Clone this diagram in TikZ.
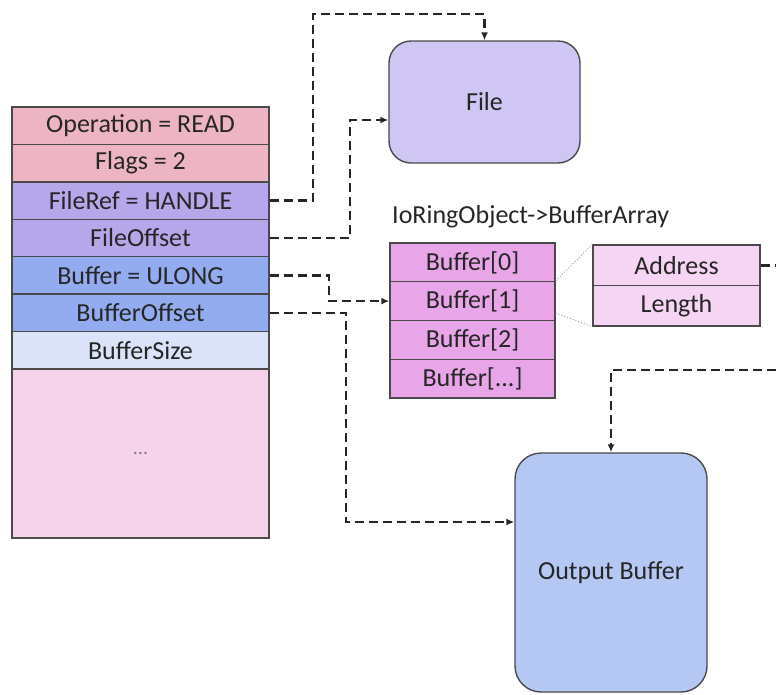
\documentclass[tikz,border=0pt]{standalone}
\usepackage{fontspec}
\setmainfont{Carlito}
\usetikzlibrary{arrows.meta,calc}
\definecolor{opPink}{HTML}{EDB4C3}
\definecolor{refPurple}{HTML}{B6A7EA}
\definecolor{bufBlue}{HTML}{92ACEF}
\definecolor{sizeBlue}{HTML}{DAE3F8}
\definecolor{restPink}{HTML}{F7D3EB}
\definecolor{arrOrchid}{HTML}{E8A6E8}
\definecolor{addrPink}{HTML}{F6D4F3}
\definecolor{fileLilac}{HTML}{D0C6F3}
\definecolor{outBlue}{HTML}{B5C8F3}
\definecolor{ink}{HTML}{262626}
\definecolor{edge}{HTML}{4A4A4A}
\tikzset{
  txt/.style={font=\fontsize{26}{30}\selectfont, text=ink},
  cell/.style={txt, draw=edge, line width=1.4pt, rectangle, inner sep=0pt,
    minimum width=257pt, minimum height=37.43pt},
  acell/.style={cell, fill=arrOrchid, minimum width=165pt, minimum height=38.75pt},
  bcell/.style={cell, fill=addrPink, minimum width=167pt, minimum height=40.5pt},
  bigbox/.style={txt, draw=edge, line width=1.4pt, rounded corners=22pt, inner sep=0pt},
  conn/.style={draw=ink, line width=2.6pt, dash pattern=on 9pt off 5pt,
    -{Latex[length=8pt,width=7pt]}},
  zoomline/.style={draw=gray!70, line width=1pt, dotted}
}
\begin{document}
\begin{tikzpicture}[x=1pt,y=-1pt]
\clip (0,0) rectangle (776,694);
\useasboundingbox (0,0) rectangle (776,694);

% submission entry fields
\node[cell, fill=opPink]    (op)      at (140.5,125.7) {Operation = READ};
\node[cell, fill=opPink]    (flags)   at (140.5,163.1) {Flags = 2};
\node[cell, fill=refPurple] (fileref) at (140.5,200.6) {FileRef = HANDLE};
\node[cell, fill=refPurple] (fileoff) at (140.5,238.0) {FileOffset};
\node[cell, fill=bufBlue]   (bufref)  at (140.5,275.4) {Buffer = ULONG};
\node[cell, fill=bufBlue]   (bufoff)  at (140.5,312.9) {BufferOffset};
\node[cell, fill=sizeBlue]  (bufsize) at (140.5,350.3) {BufferSize};
\node[cell, fill=restPink, minimum height=169pt] (rest) at (140.5,453.5)
  {\textcolor{gray}{\fontsize{20}{22}\selectfont ...}};

% file object
\node[bigbox, fill=fileLilac, minimum width=191pt, minimum height=122pt]
  (file) at (484.5,102) {File};

% registered buffer array
\node[txt, anchor=west, inner sep=0pt] (arrlabel) at (392,217) {IoRingObject->BufferArray};
\node[acell] (b0) at (472.5,262.4) {Buffer[0]};
\node[acell] (b1) at (472.5,301.1) {Buffer[1]};
\node[acell] (b2) at (472.5,339.9) {Buffer[2]};
\node[acell] (b3) at (472.5,378.6) {Buffer[...]};

% buffer entry detail
\node[bcell] (addr) at (676.5,265.3) {Address};
\node[bcell] (len)  at (676.5,305.8) {Length};
\draw[zoomline] (b1.north east) -- (addr.north west);
\draw[zoomline] ([yshift=-12pt]b1.east) -- (len.south west);

% output buffer
\node[bigbox, fill=outBlue, minimum width=192pt, minimum height=239pt, rounded corners=26pt]
  (out) at (611,572.5) {Output Buffer};

% references
\draw[conn] (fileref.east) -- (313,200.6) -- (313,14) -| (file.north);
\draw[conn] (fileoff.east) -- (350,238) |- ([yshift=-18pt]file.west);
\draw[conn] (bufref.east) -- (329,275.4) |- (b1.west);
\draw[conn] (bufoff.east) -- (346,312.9) |- ([yshift=50.5pt]out.west);
\draw[conn] (addr.east) -- (800,265.3) -- (800,370) -| (out.north);
\end{tikzpicture}
\end{document}
